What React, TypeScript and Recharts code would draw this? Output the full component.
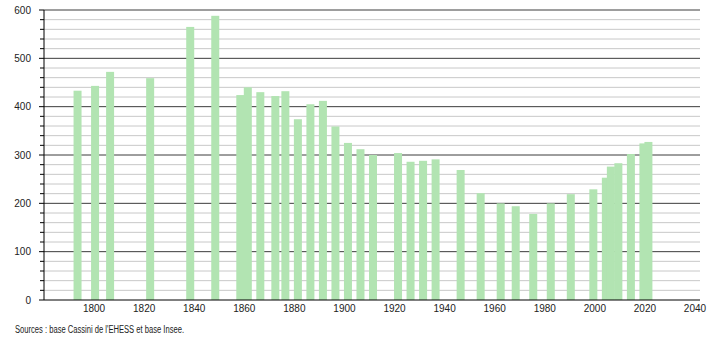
import React from "react";
import { BarChart, Bar, XAxis, YAxis, CartesianGrid } from "recharts";

// census years and population
const years = [
  1793, 1800, 1806, 1822, 1838, 1848, 1858, 1861, 1866, 1872, 1876, 1881,
  1886, 1891, 1896, 1901, 1906, 1911, 1921, 1926, 1931, 1936, 1946, 1954,
  1962, 1968, 1975, 1982, 1990, 1999, 2004, 2006, 2009, 2014, 2019, 2021,
];
const population = [
  433, 443, 472, 459, 565, 588, 424, 440, 430, 422, 432, 374,
  405, 412, 359, 325, 312, 300, 304, 286, 288, 291, 269, 221,
  200, 194, 178, 200, 219, 229, 253, 276, 283, 302, 324, 327,
];

const xTicks = [1800, 1820, 1840, 1860, 1880, 1900, 1920, 1940, 1960, 1980, 2000, 2020, 2040];
const yMajor = [0, 100, 200, 300, 400, 500, 600];
const yTicks = Array.from({ length: 31 }, (_, i) => i * 20);
const yMinor = yTicks.filter((v) => v % 100 !== 0);

const FONT = '"Liberation Sans", Arial, sans-serif';
const BAR_COLOR = "#b2e4b2";
const BAR_W = 8;

function YTick(props: any) {
  const { x, y, payload } = props;
  const major = payload.value % 100 === 0;
  return (
    <g>
      <line x1={x - (major ? 5 : 4)} x2={x} y1={y} y2={y} stroke="#000" />
      {major && (
        <text
          x={x - 13}
          y={y}
          dy="0.35em"
          textAnchor="end"
          fontSize={10}
          fontFamily={FONT}
          fill="#222"
        >
          {payload.value}
        </text>
      )}
    </g>
  );
}

// recharts squeezes bars when years are close, keep a fixed width around the centre
function FixedBar(props: any) {
  const { x, y, width, height } = props;
  const cx = x + width / 2;
  return <rect x={cx - BAR_W / 2 + 1} y={y} width={BAR_W} height={height} fill={BAR_COLOR} />;
}

export default function App() {
  const data = years.map((year, i) => ({ year, pop: population[i] }));

  return (
    <div
      style={{
        position: "absolute",
        left: 0,
        top: 0,
        width: 710,
        height: 340,
        background: "#fff",
        fontFamily: FONT,
      }}
    >
      <BarChart
        width={710}
        height={320}
        data={data}
        margin={{ top: 10, right: 10, bottom: 0, left: 0 }}
      >
        <CartesianGrid
          vertical={false}
          horizontalValues={yMinor}
          stroke="#c8c8c8"
          strokeDasharray=""
        />
        <CartesianGrid
          vertical={false}
          horizontalValues={yMajor.filter((v) => v > 0)}
          stroke="#3c3c3c"
          strokeDasharray=""
        />
        <XAxis
          type="number"
          dataKey="year"
          domain={[1780, 2042]}
          ticks={xTicks}
          interval={0}
          allowDataOverflow
          tickLine={false}
          tickSize={0}
          tickMargin={5}
          height={20}
          axisLine={{ stroke: "#000" }}
          tick={{ fontSize: 10, fill: "#222", fontFamily: FONT }}
        />
        <YAxis
          type="number"
          domain={[0, 600]}
          ticks={yTicks}
          interval={0}
          width={44}
          tickLine={false}
          tickSize={0}
          tickMargin={0}
          axisLine={{ stroke: "#000" }}
          tick={<YTick />}
        />
        <Bar dataKey="pop" fill={BAR_COLOR} shape={<FixedBar />} isAnimationActive={false} />
      </BarChart>
      <svg
        width={710}
        height={20}
        style={{ position: "absolute", left: 0, top: 320 }}
      >
        <text
          x={15}
          y={13}
          fontSize={10}
          fontFamily={FONT}
          fill="#222"
          textLength={169}
          lengthAdjust="spacingAndGlyphs"
        >
          Sources : base Cassini de l'EHESS et base Insee.
        </text>
      </svg>
    </div>
  );
}
